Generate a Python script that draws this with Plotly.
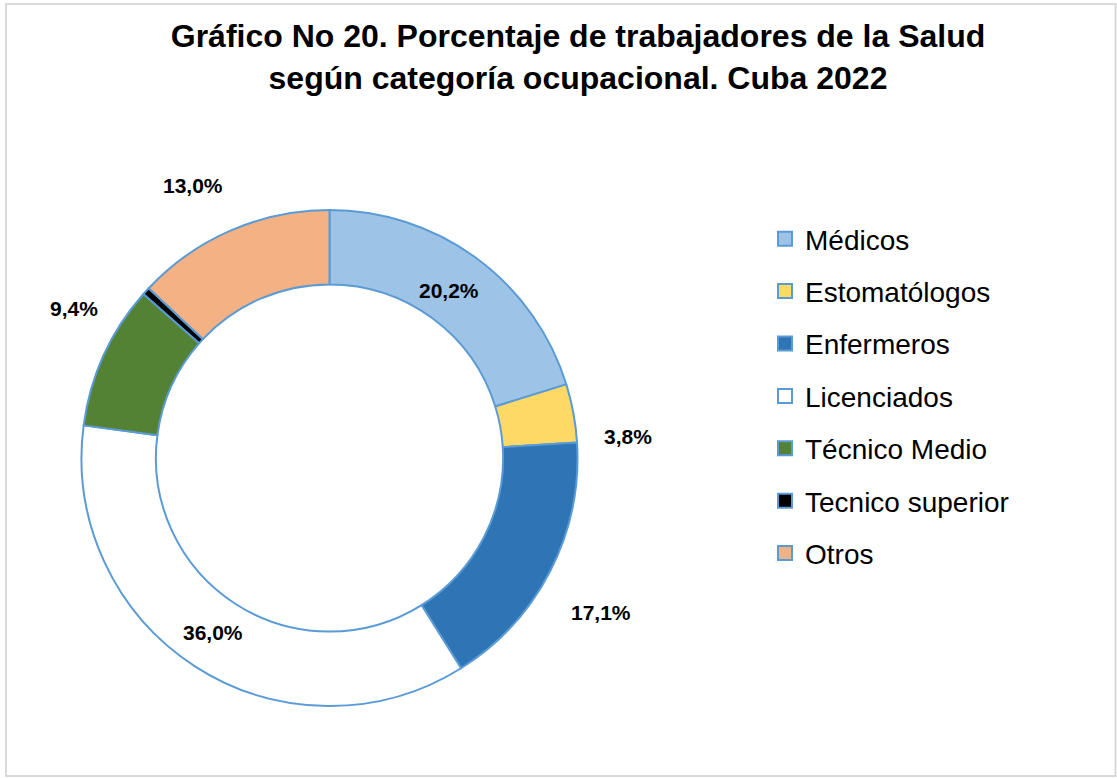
import math
import plotly.graph_objects as go

# ---- data ----
categories = ["Médicos", "Estomatólogos", "Enfermeros", "Licenciados",
              "Técnico Medio", "Tecnico superior", "Otros"]
percentages = [20.2, 3.8, 17.1, 36.0, 9.4, 0.5, 13.0]
label_texts = ["20,2%", "3,8%", "17,1%", "36,0%", "9,4%", "", "13,0%"]
label_inside = [True, False, False, True, False, False, False]

# ---- style ----
colors = ["#9dc3e6", "#ffd966", "#2e75b6", "#ffffff", "#548235", "#000000", "#f4b183"]
label_nudge_px = [(-4, 0), (3, 33), (5, 17), (-4, 0), (18, -25), (0, 0), (-17, 3)]
W, H = 1117, 778
FONT = "Liberation Sans, Arial, sans-serif"
edge = "#5b9bd5"

cx_px, cy_px, R_px = 329.5, 458.0, 248.0
dom_x = [(cx_px - R_px) / W, (cx_px + R_px) / W]
dom_y = [1 - (cy_px + R_px) / H, 1 - (cy_px - R_px) / H]

fig = go.Figure()
fig.add_trace(go.Pie(
    labels=categories, values=percentages, sort=False, direction="clockwise",
    rotation=0, hole=0.70, textinfo="none", showlegend=False,
    marker=dict(colors=colors, line=dict(color=edge, width=2)),
    domain=dict(x=dom_x, y=dom_y),
))

# legend entries (one per category, from the same lists)
for i, (cat, col) in enumerate(zip(categories, colors)):
    fig.add_trace(go.Scatter(
        x=[None], y=[None], mode="markers", name=cat, legendgroup=str(i),
        marker=dict(symbol="square", size=14, color=col, line=dict(color=edge, width=2)),
        showlegend=True, hoverinfo="skip"))

# data labels at angles derived from cumulative values
total = sum(percentages)
cum = 0.0
for v, txt, ins, (dx, dy) in zip(percentages, label_texts, label_inside, label_nudge_px):
    mid = (cum + v / 2) / total * 2 * math.pi
    cum += v
    if not txt:
        continue
    r = 208 if ins else 300
    px = cx_px + r * math.sin(mid) + dx
    py = cy_px - r * math.cos(mid) + dy
    fig.add_annotation(x=px / W, y=1 - py / H, xref="paper", yref="paper",
                       text=f"<b>{txt}</b>", showarrow=False,
                       font=dict(family=FONT, size=21, color="#000000"),
                       xanchor="center", yanchor="middle")

fig.add_shape(type="rect", xref="paper", yref="paper",
              x0=6 / W, x1=1115.5 / W, y0=1 - 776 / H, y1=1 - 4 / H,
              line=dict(color="#d9d9d9", width=2), fillcolor="rgba(0,0,0,0)")

fig.update_layout(
    width=W, height=H,
    margin=dict(l=0, r=0, t=0, b=0),
    paper_bgcolor="white", plot_bgcolor="white",
    xaxis=dict(visible=False), yaxis=dict(visible=False),
    title=dict(
        text="<b>Gráfico No 20. Porcentaje de trabajadores de la Salud<br>según categoría ocupacional. Cuba 2022</b>",
        x=578 / W, xanchor="center", y=1 - 47 / H, yanchor="middle",
        font=dict(family=FONT, size=32, color="#000000")),
    legend=dict(
        x=765 / W, xanchor="left", y=1 - 214 / H, yanchor="top",
        font=dict(family=FONT, size=28, color="#000000"),
        tracegroupgap=13, bgcolor="rgba(0,0,0,0)", itemclick=False),
    showlegend=True,
)

fig.write_html("out.html", config={"displayModeBar": False},
               post_script="document.body.style.margin='0';")
